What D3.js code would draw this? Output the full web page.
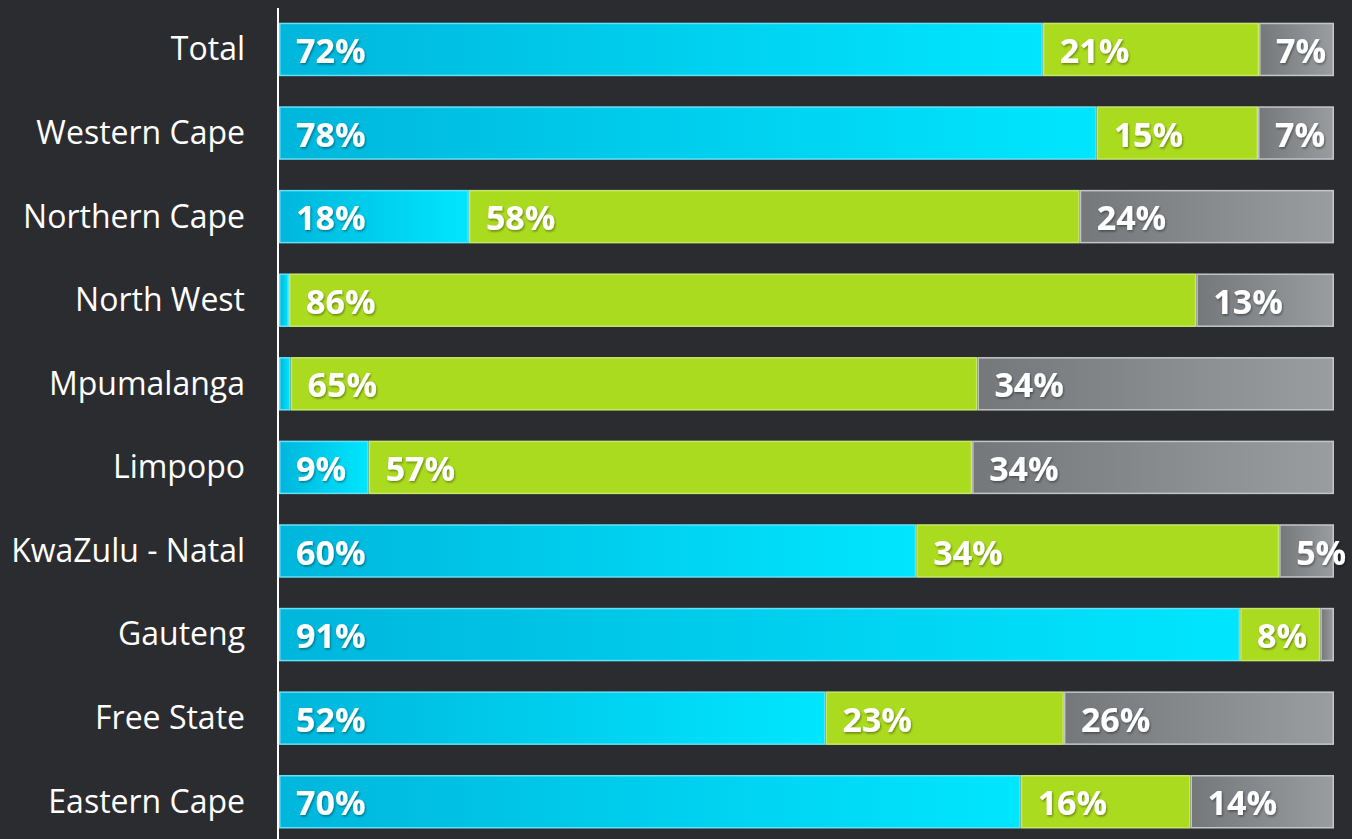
<!DOCTYPE html>
<html>
<head>
<meta charset="utf-8">
<script src="https://cdn.jsdelivr.net/npm/d3@7"></script>
<style>
  html, body { margin: 0; padding: 0; background: #2b2c2f; }
  svg { display: block; }
</style>
</head>
<body>
<svg id="chart" width="1352" height="839"></svg>
<script>
const categories = ["Total", "Western Cape", "Northern Cape", "North West", "Mpumalanga",
  "Limpopo", "KwaZulu - Natal", "Gauteng", "Free State", "Eastern Cape"];
const seriesNames = ["blue", "green", "grey"];
const blueValues  = [72.4, 77.5, 18.0, 0.95, 1.1, 8.5, 60.4, 91.1, 51.8, 70.3];
const greenValues = [20.5, 15.3, 57.9, 86.0, 65.1, 57.2, 34.4, 7.6, 22.6, 16.1];
const greyValues  = [7.1, 7.2, 24.1, 13.05, 33.8, 34.3, 5.2, 1.3, 25.6, 13.6];

const W = 1352, H = 839;
const svg = d3.select("#chart");
const bg = "#2b2c2f";
svg.append("rect").attr("width", W).attr("height", H).attr("fill", bg);

const defs = svg.append("defs");
function grad(id, c0, c1) {
  const g = defs.append("linearGradient").attr("id", id)
    .attr("x1", "0%").attr("x2", "100%").attr("y1", "0%").attr("y2", "0%");
  g.append("stop").attr("offset", "0%").attr("stop-color", c0);
  g.append("stop").attr("offset", "100%").attr("stop-color", c1);
}
grad("g-blue", "#00b6dc", "#00e6ff");
grad("g-green", "#abdb1f", "#abdb1f");
grad("g-grey", "#74787b", "#9a9d9f");
const shadow = defs.append("filter").attr("id", "tshadow")
  .attr("x", "-20%").attr("y", "-20%").attr("width", "140%").attr("height", "140%");
shadow.append("feDropShadow").attr("dx", 1).attr("dy", 1.5).attr("stdDeviation", 1)
  .attr("flood-color", "#000").attr("flood-opacity", 0.4);

const fills = { blue: "url(#g-blue)", green: "url(#g-green)", grey: "url(#g-grey)" };
const strokes = { blue: "#62e2f8", green: "#c6e86a", grey: "#c4c5c6" };

const data = categories.map((c, i) => ({
  cat: c, blue: blueValues[i], green: greenValues[i], grey: greyValues[i]
}));
const stack = d3.stack().keys(seriesNames)(data);

const x = d3.scaleLinear().domain([0, 100]).range([279, 1334]);
const y = d3.scaleBand().domain(categories).range([22.7, 828.5]).paddingInner(0.36).paddingOuter(0);

const layers = svg.append("g").selectAll("g.layer").data(stack).join("g")
  .attr("class", "layer");

layers.selectAll("rect").data(d => d.map(p => ({ key: d.key, p }))).join("rect")
  .attr("x", d => x(d.p[0]) + 0.75)
  .attr("y", d => y(d.p.data.cat) + 0.75)
  .attr("width", d => Math.max(0, x(d.p[1]) - x(d.p[0]) - 1.5))
  .attr("height", y.bandwidth() - 1.5)
  .attr("fill", d => fills[d.key])
  .attr("stroke", d => strokes[d.key])
  .attr("stroke-width", 1.5);

const fmt = v => Math.round(v) + "%";
layers.selectAll("text").data(d => d.map(p => ({ key: d.key, p }))
    .filter(d => d.p[1] - d.p[0] >= 3)).join("text")
  .attr("x", d => x(d.p[0]) + 17)
  .attr("y", d => y(d.p.data.cat) + y.bandwidth() / 2)
  .attr("dy", "0.4em")
  .attr("fill", "#ffffff")
  .attr("font-family", "'Open Sans', sans-serif")
  .attr("font-weight", 700)
  .attr("font-size", 34)
  .attr("filter", "url(#tshadow)")
  .text(d => fmt(d.p[1] - d.p[0]));

// category axis
const axis = d3.axisLeft(y).tickSize(0).tickPadding(33);
const ag = svg.append("g").attr("transform", "translate(278,0)").call(axis);
ag.select(".domain").remove();
ag.selectAll("text")
  .attr("fill", "#ffffff")
  .attr("font-family", "'Open Sans', sans-serif")
  .attr("font-size", 32)
  .attr("dy", "0.34em");
svg.append("line").attr("x1", 278).attr("x2", 278).attr("y1", 8).attr("y2", H)
  .attr("stroke", "#ffffff").attr("stroke-width", 2);
</script>
</body>
</html>
